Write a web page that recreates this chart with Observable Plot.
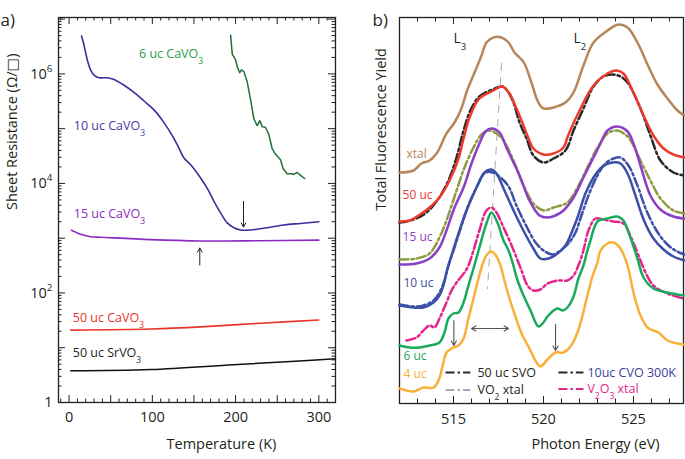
<!DOCTYPE html>
<html><head><meta charset="utf-8">
<script src="https://cdn.jsdelivr.net/npm/d3@7"></script>
<script src="https://cdn.jsdelivr.net/npm/@observablehq/plot@0.6"></script>
<style>
body{margin:0;background:#fff;}
#wrap{position:relative;width:685px;height:459px;overflow:hidden;}
#a,#b{position:absolute;top:0;}
#a{left:0;} #b{left:345px;}
</style></head><body><div id="wrap"><div id="a"></div><div id="b"></div></div>
<script>
// ---------- Panel a: sheet resistance (Ω/□) vs temperature (K) ----------
const T_6uc  = [194,196,200,202,205,207,210,214,218,222,226,229,232,236,240,244,248,254,257,262,268,269,274,278,283];
const R_6uc  = [5.1e6,2.3e6,1.8e6,1.35e6,1.05e6,1.18e6,1.1e6,7.1e5,3.4e5,1.5e5,1.13e5,1.4e5,1.09e5,1.05e5,7.8e4,4.3e4,3.4e4,2.7e4,1.87e4,1.5e4,1.5e4,1.45e4,1.58e4,1.4e4,1.23e4];
const T_10uc = [15,18,22,26,30,36,46,54,66,78,90,102,114,126,132,138,146,158,166,174,182,190,198,206,218,238,258,278,300];
const R_10uc = [4.9e6,3.3e6,1.78e6,1.17e6,9.5e5,8.5e5,8.5e5,7.9e5,6.2e5,4.6e5,3.2e5,2.2e5,1.29e5,6.6e4,4.4e4,2.9e4,2.2e4,1.26e4,8100,4700,2900,1900,1550,1410,1410,1550,1740,1860,2000];
const T_15uc = [3,8,14,26,38,98,158,230,300];
const R_15uc = [1400,1290,1180,1060,1040,940,890,900,920];
const T_50CVO = [2,98,158,230,300];
const R_50CVO = [21,22,24,28,32];
const T_50SVO = [2,98,197,266,320];
const R_50SVO = [3.8,4.0,4.9,5.6,6.3];
const yTicksA = [1,1e2,1e4,1e6];
const xTicksA = [0,100,200,300];
const labelsA = [
  [84, 2.3e6, "6 uc CaVO₃"],
  [5.6, 1.13e5, "10 uc CaVO₃"],
  [5.6, 2800, "15 uc CaVO₃"],
  [4.4, 35, "50 uc CaVO₃"],
  [4.4, 8.1, "50 uc SrVO₃"]
];
const arrowsA = [[209.5, 4700, 209.5, 1600], [157, 324, 157, 661]];

// ---------- Panel b: total fluorescence yield (a.u.) vs photon energy (eV) ----------
const xtal = [[512.0,23.1],[512.78,23.3],[513.22,24.0],[513.67,24.3],[514.06,25.0],[514.22,25.5],[514.61,27.0],[515.06,28.1],[515.44,29.5],[515.72,31.1],[516.17,33.1],[516.56,34.8],[516.83,36.1],[517.22,36.6],[517.67,36.6],[518.06,36.1],[518.39,35.1],[518.67,34.6],[518.94,34.0],[519.33,32.1],[519.72,30.1],[520.0,29.5],[520.56,29.6],[521.22,30.1],[521.67,31.1],[522.22,33.8],[522.78,36.1],[523.56,37.3],[524.17,37.9],[524.67,37.6],[525.22,36.1],[525.78,33.9],[526.33,31.9],[526.89,30.5],[527.44,29.3],[527.83,28.8]];
const uc50 = [[512.0,18.2],[512.56,18.3],[513.22,19.0],[513.67,19.6],[514.22,20.6],[514.78,22.3],[515.28,24.5],[515.56,26.5],[515.89,28.6],[516.44,30.5],[517.22,31.3],[517.72,31.7],[518.11,31.0],[518.5,29.5],[518.89,27.8],[519.17,26.5],[519.44,25.5],[520.0,24.9],[520.56,25.0],[521.11,25.6],[521.39,26.9],[522.06,29.5],[522.78,31.8],[523.56,33.0],[524.06,33.3],[524.44,33.0],[525.0,31.1],[525.56,28.8],[526.11,26.8],[526.67,25.5],[527.22,24.9],[527.83,24.6]];
const svo50 = [[512.0,18.1],[512.78,18.4],[513.5,19.1],[514.17,20.5],[514.72,22.3],[515.17,24.6],[515.56,27.3],[515.94,29.3],[516.44,30.7],[517.17,31.4],[517.72,31.7],[518.06,31.1],[518.33,30.1],[518.67,28.1],[519.06,26.5],[519.44,24.8],[520.0,24.1],[520.56,24.5],[521.22,25.3],[521.67,27.3],[522.22,29.5],[522.78,31.7],[523.33,32.7],[523.83,32.9],[524.28,32.7],[524.67,32.1],[525.39,29.5],[525.94,26.8],[526.5,24.3],[527.22,23.1],[527.83,22.8]];
const uc15 = [[512.0,13.9],[512.94,14.0],[513.67,14.5],[514.22,15.6],[514.61,17.3],[515.06,19.6],[515.56,21.6],[516.0,24.0],[516.44,26.0],[516.78,27.2],[517.11,27.5],[517.56,27.1],[517.94,25.6],[518.28,24.3],[518.67,22.8],[519.22,20.3],[519.78,18.8],[520.22,18.6],[520.67,18.8],[521.11,19.3],[521.67,20.6],[522.22,22.6],[522.78,24.6],[523.17,26.0],[523.56,27.3],[524.11,27.7],[524.67,27.2],[525.0,26.0],[525.39,23.8],[525.94,20.8],[526.5,19.4],[527.22,18.7],[527.83,18.5]];
const vo2 = [[512.0,14.4],[512.94,14.5],[513.67,15.0],[514.22,16.6],[514.61,18.3],[515.17,21.3],[515.61,23.6],[516.11,25.6],[516.56,26.9],[516.94,27.3],[517.39,27.0],[517.78,26.3],[518.33,24.3],[518.89,21.8],[519.44,20.0],[520.0,19.3],[520.56,19.6],[521.33,20.1],[521.89,21.6],[522.44,23.6],[523.0,25.6],[523.56,27.0],[524.11,27.3],[524.67,26.7],[525.0,25.8],[525.39,24.3],[525.94,22.3],[526.5,20.5],[527.22,19.3],[527.83,19.0]];
const uc10 = [[512.0,9.8],[512.78,9.6],[513.33,9.6],[513.89,10.1],[514.22,10.8],[514.44,11.8],[514.61,13.1],[514.89,14.8],[515.28,17.0],[515.72,19.3],[516.28,21.6],[516.72,23.1],[517.11,23.4],[517.39,23.0],[517.83,21.3],[518.39,19.1],[518.94,17.1],[519.44,15.5],[519.83,14.5],[520.28,14.5],[520.78,15.0],[521.22,15.8],[521.61,17.3],[521.89,18.6],[522.33,21.0],[522.78,22.6],[523.28,23.7],[523.83,24.1],[524.28,24.0],[524.67,23.0],[525.11,20.8],[525.56,18.4],[526.11,16.5],[526.67,15.4],[527.22,14.7],[527.83,14.3]];
const cvo300 = [[512.0,9.9],[512.78,9.7],[513.33,9.8],[513.89,10.3],[514.22,11.1],[514.5,12.3],[514.72,13.8],[515.0,15.3],[515.39,17.5],[515.83,19.8],[516.33,21.8],[516.78,23.1],[517.17,23.1],[517.61,22.6],[518.06,21.7],[518.5,19.8],[519.06,17.7],[519.56,16.1],[520.0,15.3],[520.5,14.9],[520.94,15.3],[521.39,16.0],[521.78,17.1],[522.11,18.8],[522.5,20.8],[522.94,22.6],[523.44,24.0],[523.89,24.5],[524.28,24.6],[524.72,23.8],[525.22,21.8],[525.72,19.3],[526.28,17.3],[526.83,16.0],[527.33,15.3],[527.83,14.9]];
const v2o3 = [[512.39,6.3],[512.94,6.6],[513.33,7.3],[513.67,7.8],[513.94,7.6],[514.22,8.5],[514.61,10.1],[514.89,11.3],[515.17,12.1],[515.61,13.1],[515.83,13.8],[516.11,15.3],[516.44,17.3],[516.83,19.3],[517.11,19.6],[517.39,19.1],[517.78,17.6],[518.11,16.3],[518.5,14.6],[518.78,13.3],[519.11,11.8],[519.44,11.3],[519.83,11.4],[520.22,12.0],[520.78,12.3],[521.33,12.3],[521.67,12.8],[521.94,13.8],[522.22,15.3],[522.5,17.3],[522.89,18.5],[523.33,18.4],[523.89,18.2],[524.44,18.0],[524.94,16.3],[525.39,14.3],[525.67,13.1],[526.11,11.8],[526.89,11.0],[527.78,10.5]];
const uc6 = [[512.0,5.8],[512.56,5.6],[513.11,5.6],[513.67,5.8],[514.22,6.1],[514.5,7.1],[514.72,8.5],[515.0,9.0],[515.28,9.1],[515.56,10.1],[515.83,11.8],[516.11,13.5],[516.44,15.6],[516.83,18.0],[517.11,19.1],[517.44,18.1],[517.78,16.3],[518.06,15.3],[518.28,14.1],[518.56,12.3],[518.89,10.8],[519.28,9.3],[519.72,7.7],[520.0,8.1],[520.22,8.7],[520.78,9.5],[521.06,9.3],[521.33,9.6],[521.67,10.7],[521.94,12.5],[522.22,13.8],[522.44,15.3],[522.61,16.3],[523.0,18.2],[523.56,18.5],[524.11,18.7],[524.44,18.3],[524.83,16.6],[525.22,14.5],[525.56,12.6],[526.11,11.5],[526.89,11.1],[527.78,10.8]];
const uc4 = [[512.0,1.5],[512.39,1.3],[512.78,1.2],[513.33,1.6],[513.89,1.6],[514.17,2.3],[514.44,4.1],[514.61,5.1],[515.0,5.6],[515.28,5.8],[515.56,6.5],[515.83,8.5],[516.11,10.5],[516.39,12.5],[516.61,13.9],[516.83,14.8],[517.11,15.2],[517.39,14.7],[517.61,13.8],[517.83,12.3],[518.06,10.8],[518.33,9.3],[518.78,7.0],[519.22,5.5],[519.61,4.1],[519.83,3.7],[520.22,4.4],[520.67,5.1],[521.11,5.1],[521.5,5.7],[521.89,7.1],[522.17,8.8],[522.44,10.8],[522.72,12.7],[523.0,14.1],[523.17,15.3],[523.56,16.0],[523.89,16.1],[524.28,15.5],[524.67,13.8],[525.0,11.1],[525.39,8.8],[525.78,7.6],[526.11,7.3],[526.39,7.1],[526.89,6.3],[527.44,6.0],[527.78,5.9]];
const xTicksB = [515,520,525];
const labelsB = [
  [512.39, 24.9, "xtal"], [512.17, 20.8, "50 uc"], [512.17, 16.6, "15 uc"],
  [512.22, 12.0, "10 uc"], [512.22, 4.7, "6 uc"], [512.22, 2.9, "4 uc"]
];
const edgeLabels = [[515.0, 36.5, "L₃"], [521.67, 36.5, "L₂"]];
const guideLine = [[517.67, 34.0], [516.89, 11.5]];
const arrowsB = [[515.02, 8.3, 515.02, 5.8], [520.67, 7.9, 520.67, 5.3], [517.03, 7.5, 516.0, 7.5], [517.03, 7.5, 518.06, 7.5]];
const legendB = [
  {x1: 514.56, x2: 515.94, tx: 516.33, y: 3.1, name: "50 uc SVO"},
  {x1: 514.56, x2: 515.94, tx: 516.33, y: 1.35, name: "VO₂ xtal"},
  {x1: 520.83, x2: 522.22, tx: 522.44, y: 3.1, name: "10uc CVO 300K"},
  {x1: 520.83, x2: 522.22, tx: 522.44, y: 1.45, name: "V₂O₃ xtal"}
];

// ---------- styles ----------
const FONT = '"Open Sans", "DejaVu Sans", sans-serif';
const INK = "#231f20";
const DASHDOT = "9,3,2.5,3";

function richify(root){
  const SUB = /[\u2080-\u2089]/, SUP = /[\u2070\u00B9\u00B2\u00B3\u2074-\u2079]/;
  const norm = ch => {
    const c = ch.charCodeAt(0);
    if (c >= 0x2080 && c <= 0x2089) return String(c - 0x2080);
    if (c === 0x2070) return "0"; if (c === 0xB9) return "1"; if (c === 0xB2) return "2"; if (c === 0xB3) return "3";
    if (c >= 0x2074 && c <= 0x2079) return String(c - 0x2070);
    return ch;
  };
  const walker = document.createTreeWalker(root, NodeFilter.SHOW_TEXT);
  const nodes = []; while (walker.nextNode()) nodes.push(walker.currentNode);
  const re = /[\u2080-\u2089]+|[\u2070\u00B9\u00B2\u00B3\u2074-\u2079]+|[^\u2080-\u2089\u2070\u00B9\u00B2\u00B3\u2074-\u2079]+/g;
  for (const n of nodes) {
    const s = n.nodeValue;
    if (!SUB.test(s) && !SUP.test(s)) continue;
    const frag = document.createDocumentFragment();
    for (const m of s.match(re)) {
      if (SUB.test(m[0]) || SUP.test(m[0])) {
        const t = document.createElementNS("http://www.w3.org/2000/svg", "tspan");
        t.setAttribute("baseline-shift", SUB.test(m[0]) ? "sub" : "super");
        t.setAttribute("font-size", "68%");
        t.textContent = [...m].map(norm).join("");
        frag.appendChild(t);
      } else frag.appendChild(document.createTextNode(m));
    }
    n.parentNode.replaceChild(frag, n);
  }
}

function boxTicks(xMajor, xMinor, yMajor, yMinor, pw, ph, major, minor){
  const m = [];
  const s = {stroke: INK, strokeWidth: 1};
  if (xMajor) { m.push(Plot.ruleX(xMajor, {x: d => d, insetTop: ph - major, ...s}), Plot.ruleX(xMajor, {x: d => d, insetBottom: ph - major, ...s})); }
  if (xMinor) { m.push(Plot.ruleX(xMinor, {x: d => d, insetTop: ph - minor, ...s}), Plot.ruleX(xMinor, {x: d => d, insetBottom: ph - minor, ...s})); }
  if (yMajor) { m.push(Plot.ruleY(yMajor, {y: d => d, insetRight: pw - major, ...s}), Plot.ruleY(yMajor, {y: d => d, insetLeft: pw - major, ...s})); }
  if (yMinor) { m.push(Plot.ruleY(yMinor, {y: d => d, insetRight: pw - minor, ...s}), Plot.ruleY(yMinor, {y: d => d, insetLeft: pw - minor, ...s})); }
  return m;
}

// ---------- Panel a ----------
{
  const W = 345, H = 459, mt = 17, mr = 10, mb = 57, ml = 58;
  const pw = W - ml - mr, ph = H - mt - mb;
  const zip = (T, R) => T.map((t, i) => ({T: t, R: R[i]}));
  const xMaj = d3.range(0, 301, 50), xMin = d3.range(-10, 321, 10).filter(v => v % 50 !== 0);
  const yMaj = d3.range(0, 8).map(e => 10 ** e);
  const yMin = d3.range(0, 7).flatMap(e => d3.range(2, 10).map(k => k * 10 ** e)).filter(v => v <= 1.07e7);
  const supTxt = d => d === 1 ? "1" : "10" + "⁰¹²³⁴⁵⁶⁷⁸⁹"[Math.round(Math.log10(d))];
  const labColors = ["#2c9a4c", "#4a3aa8", "#8a2bc2", "#e8352b", INK];
  const svg = Plot.plot({
    width: W, height: H, marginTop: mt, marginRight: mr, marginBottom: mb, marginLeft: ml,
    x: {domain: [-12.7, 320]},
    y: {type: "log", domain: [1, 1.07e7]},
    style: {fontFamily: FONT, fontSize: "14.5px", color: INK, background: "transparent", overflow: "visible"},
    marks: [
      ...boxTicks(xMaj, xMin, yMaj, yMin, pw, ph, 7, 3.5),
      Plot.frame({stroke: INK, strokeWidth: 1.3}),
      Plot.axisX(xTicksA, {tickSize: 0, tickPadding: 9, label: null, fontSize: 14.5}),
      Plot.axisY(yTicksA, {tickSize: 0, tickPadding: 6, tickFormat: supTxt, label: null, fontSize: 14.5}),
      Plot.line(zip(T_50SVO, R_50SVO), {x: "T", y: "R", stroke: "#111", strokeWidth: 1.6, curve: "catmull-rom"}),
      Plot.line(zip(T_50CVO, R_50CVO), {x: "T", y: "R", stroke: "#e8352b", strokeWidth: 1.6, curve: "catmull-rom"}),
      Plot.line(zip(T_15uc, R_15uc), {x: "T", y: "R", stroke: "#8a2bc2", strokeWidth: 1.6, curve: "catmull-rom"}),
      Plot.line(zip(T_10uc, R_10uc), {x: "T", y: "R", stroke: "#3d2e9c", strokeWidth: 1.6, curve: "catmull-rom"}),
      Plot.line(zip(T_6uc, R_6uc), {x: "T", y: "R", stroke: "#1f7038", strokeWidth: 1.5}),
      Plot.arrow(arrowsA, {x1: d => d[0], y1: d => d[1], x2: d => d[2], y2: d => d[3], stroke: INK, strokeWidth: 1, headLength: 7}),
      Plot.text(labelsA, {x: d => d[0], y: d => d[1], text: d => d[2], fill: (d, i) => labColors[i], textAnchor: "start", fontSize: 12.5}),
      Plot.text(["Sheet Resistance (Ω/□)"], {frameAnchor: "left", dx: -46, rotate: -90, fontSize: 14.5, fill: INK}),
      Plot.text(["Temperature (K)"], {frameAnchor: "bottom-left", dx: 108, dy: 46, fontSize: 14.5, fill: INK}),
      Plot.text(["a)"], {frameAnchor: "top-left", dx: -58, dy: -4, textAnchor: "start", fontSize: 17, fill: INK})
    ]
  });
  richify(svg);
  document.getElementById("a").appendChild(svg);
}

// ---------- Panel b ----------
{
  const W = 340, H = 459, mt = 17, mr = 2, mb = 56, ml = 54;
  const pw = W - ml - mr, ph = H - mt - mb;
  const series = [
    {data: xtal, stroke: "#b8865b"},
    {data: svo50, stroke: "#2a2a2a", dash: DASHDOT},
    {data: uc50, stroke: "#ee3a2c"},
    {data: vo2, stroke: "#8e9b3e", dash: DASHDOT},
    {data: uc15, stroke: "#8b3fc5"},
    {data: cvo300, stroke: "#3d50a8", dash: DASHDOT},
    {data: uc10, stroke: "#3d50a8"},
    {data: v2o3, stroke: "#e4258c", dash: DASHDOT},
    {data: uc6, stroke: "#1aaa5e"},
    {data: uc4, stroke: "#f9b03a"}
  ];
  const labColors = ["#b8865b", "#ee3a2c", "#8b3fc5", "#3d50a8", "#1aaa5e", "#f9b03a"];
  const legStroke = ["#2a2a2a", "#aaaaaa", "#2a2a2a", "#e4258c"];
  const legText = [INK, INK, "#3d3d9e", "#e4258c"];
  const xMaj = xTicksB, xMin = d3.range(512, 528, 1).filter(v => v % 5 !== 0);
  const svg = Plot.plot({
    width: W, height: H, marginTop: mt, marginRight: mr, marginBottom: mb, marginLeft: ml,
    x: {domain: [512, 527.78]},
    y: {domain: [0, 38.6], axis: null},
    style: {fontFamily: FONT, fontSize: "14.5px", color: INK, background: "transparent", overflow: "visible"},
    marks: [
      ...boxTicks(xMaj, xMin, null, null, pw, ph, 7, 4.5),
      Plot.frame({stroke: INK, strokeWidth: 1.3}),
      Plot.axisX(xTicksB, {tickSize: 0, tickPadding: 10, label: null, fontSize: 14.5}),
      Plot.line(guideLine, {x: d => d[0], y: d => d[1], stroke: "#aaaaaa", strokeWidth: 1, strokeDasharray: "7,7"}),
      ...series.map(s => Plot.line(s.data, {x: d => d[0], y: d => d[1], stroke: s.stroke, strokeWidth: 2.5, strokeDasharray: s.dash, curve: "catmull-rom"})),
      Plot.arrow(arrowsB, {x1: d => d[0], y1: d => d[1], x2: d => d[2], y2: d => d[3], stroke: "#555", strokeWidth: 1.1, headLength: 7}),
      Plot.text(labelsB, {x: d => d[0], y: d => d[1], text: d => d[2], fill: (d, i) => labColors[i], textAnchor: "start", fontSize: 12}),
      Plot.text(edgeLabels, {x: d => d[0], y: d => d[1], text: d => d[2], fill: INK, textAnchor: "start", fontSize: 14}),
      Plot.link(legendB, {x1: "x1", x2: "x2", y1: "y", y2: "y", stroke: (d, i) => legStroke[i], strokeWidth: 1.8, strokeDasharray: DASHDOT}),
      Plot.text(legendB, {x: "tx", y: "y", text: "name", fill: (d, i) => legText[i], textAnchor: "start", fontSize: 12.5}),
      Plot.text(["Total Fluorescence Yield"], {frameAnchor: "left", dx: -18, rotate: -90, fontSize: 14.5, fill: INK}),
      Plot.text(["Photon Energy (eV)"], {frameAnchor: "bottom-left", dx: 132, dy: 45, fontSize: 14.5, fill: INK}),
      Plot.text(["b)"], {frameAnchor: "top-left", dx: -27, dy: -4, textAnchor: "start", fontSize: 17, fill: INK})
    ]
  });
  richify(svg);
  document.getElementById("b").appendChild(svg);
}
</script>
</body></html>
